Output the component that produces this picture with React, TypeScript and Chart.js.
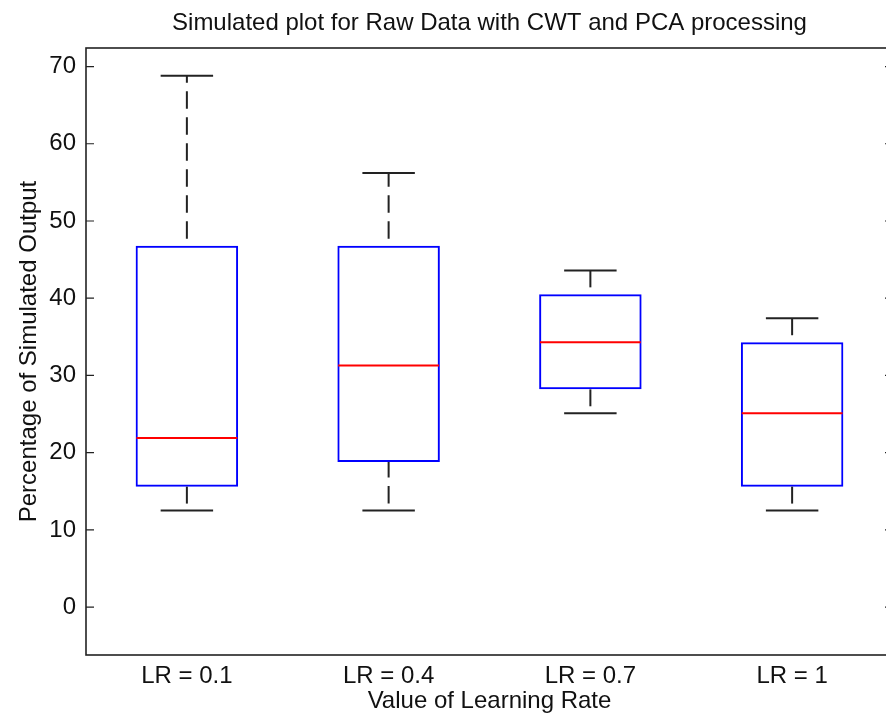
import React, { useEffect, useRef } from 'react';
import { Chart, registerables } from 'chart.js';

Chart.register(...registerables);

const categories = ['LR = 0.1', 'LR = 0.4', 'LR = 0.7', 'LR = 1'];
const lowerWhisker = [12.5, 12.5, 25.1, 12.5];
const q1 = [15.6, 18.8, 28.2, 15.6];
const medians = [21.9, 31.3, 34.3, 25.1];
const q3 = [46.8, 46.8, 40.5, 34.3];
const upperWhisker = [68.8, 56.2, 43.6, 37.4];
const yTicks = [0, 10, 20, 30, 40, 50, 60, 70];

const TITLE = 'Simulated plot for Raw Data with CWT and PCA processing';
const X_TITLE = 'Value of Learning Rate';
const Y_TITLE = 'Percentage of Simulated Output';

const FONT = '"Liberation Sans", Arial, Helvetica, sans-serif';
const TEXT = '#111111';
const DARK = '#222222';

Chart.defaults.font.family = FONT;

const boxPlugin = {
  id: 'boxExtras',
  afterDatasetsDraw(chart: any) {
    const { ctx, scales } = chart;
    const x = scales.x;
    const y = scales.y;
    const step = x.getPixelForValue(1) - x.getPixelForValue(0);
    const hb = step * 0.25;
    const hc = step * 0.13;
    ctx.save();
    ctx.lineCap = 'butt';
    categories.forEach((_, i) => {
      const cx = x.getPixelForValue(i);
      // whiskers (dashed), drawn from the low value upward
      ctx.strokeStyle = DARK;
      ctx.lineWidth = 2;
      ctx.setLineDash([17.5, 8.5]);
      ctx.lineDashOffset = 19;
      ctx.beginPath();
      ctx.moveTo(cx, y.getPixelForValue(lowerWhisker[i]));
      ctx.lineTo(cx, y.getPixelForValue(q1[i]));
      ctx.stroke();
      ctx.beginPath();
      ctx.moveTo(cx, y.getPixelForValue(q3[i]));
      ctx.lineTo(cx, y.getPixelForValue(upperWhisker[i]));
      ctx.stroke();
      // caps
      ctx.setLineDash([]);
      ctx.lineDashOffset = 0;
      [lowerWhisker[i], upperWhisker[i]].forEach((v) => {
        const py = y.getPixelForValue(v);
        ctx.beginPath();
        ctx.moveTo(cx - hc, py);
        ctx.lineTo(cx + hc, py);
        ctx.stroke();
      });
      // median
      ctx.strokeStyle = '#ff0000';
      ctx.lineWidth = 2;
      const my = y.getPixelForValue(medians[i]);
      ctx.beginPath();
      ctx.moveTo(cx - hb, my);
      ctx.lineTo(cx + hb, my);
      ctx.stroke();
    });
    ctx.restore();
  },
  afterDraw(chart: any) {
    const { ctx, chartArea, scales } = chart;
    const y = scales.y;
    const { left, right, top, bottom } = chartArea;
    ctx.save();
    ctx.strokeStyle = DARK;
    ctx.lineWidth = 1.6;
    ctx.setLineDash([]);
    ctx.strokeRect(left, top, right - left, bottom - top);
    ctx.lineWidth = 1.2;
    yTicks.forEach((v) => {
      const py = y.getPixelForValue(v);
      ctx.beginPath();
      ctx.moveTo(left, py);
      ctx.lineTo(left + 8, py);
      ctx.moveTo(right - 8, py);
      ctx.lineTo(right, py);
      ctx.stroke();
    });
    ctx.restore();
  },
};

export default function App() {
  const ref = useRef<HTMLCanvasElement>(null);
  useEffect(() => {
    const canvas = ref.current;
    if (!canvas) return;
    const chart = new Chart(canvas, {
      type: 'bar',
      data: {
        labels: categories,
        datasets: [
          {
            data: q1.map((v, i) => [v, q3[i]]) as any,
            backgroundColor: 'rgba(0,0,0,0)',
            borderColor: '#0000ff',
            borderWidth: 2,
            borderSkipped: false,
            barPercentage: 1,
            categoryPercentage: 0.508,
          },
        ],
      },
      options: {
        responsive: false,
        animation: false,
        devicePixelRatio: 1,
        layout: { padding: 0 },
        plugins: {
          legend: { display: false },
          tooltip: { enabled: false },
          title: {
            display: true,
            text: TITLE,
            fullSize: false,
            color: TEXT,
            font: { size: 24, weight: 'normal', family: FONT },
            padding: { top: 8.6, bottom: 10.6 },
          },
        },
        scales: {
          x: {
            type: 'category',
            offset: true,
            grid: { display: false, drawTicks: false, tickLength: 0 },
            border: { display: false },
            ticks: {
              color: TEXT,
              font: { size: 24, family: FONT },
              padding: 7,
              maxRotation: 0,
              autoSkip: false,
            },
            title: {
              display: true,
              text: X_TITLE,
              color: TEXT,
              font: { size: 24, family: FONT },
              padding: { top: 0, bottom: 1 },
            },
            afterFit(s: any) {
              s.height = 62;
            },
          },
          y: {
            type: 'linear',
            min: -6.2,
            max: 72.4,
            afterBuildTicks(s: any) {
              s.ticks = yTicks.map((v) => ({ value: v }));
            },
            grid: { display: false, drawTicks: false, tickLength: 0 },
            border: { display: false },
            ticks: {
              color: TEXT,
              font: { size: 24, family: FONT },
              padding: 10,
            },
            title: {
              display: true,
              text: Y_TITLE,
              color: TEXT,
              font: { size: 24, family: FONT },
              padding: { top: 15, bottom: 0 },
            },
            afterFit(s: any) {
              s.width = 86;
            },
          },
        },
      } as any,
      plugins: [boxPlugin],
    });
    return () => chart.destroy();
  }, []);
  return (
    <div
      style={{
        position: 'fixed',
        left: 0,
        top: 0,
        width: 886,
        height: 717,
        overflow: 'hidden',
        background: '#ffffff',
      }}
    >
      <canvas ref={ref} width={893} height={717} style={{ display: 'block', width: 893, height: 717 }} />
    </div>
  );
}
